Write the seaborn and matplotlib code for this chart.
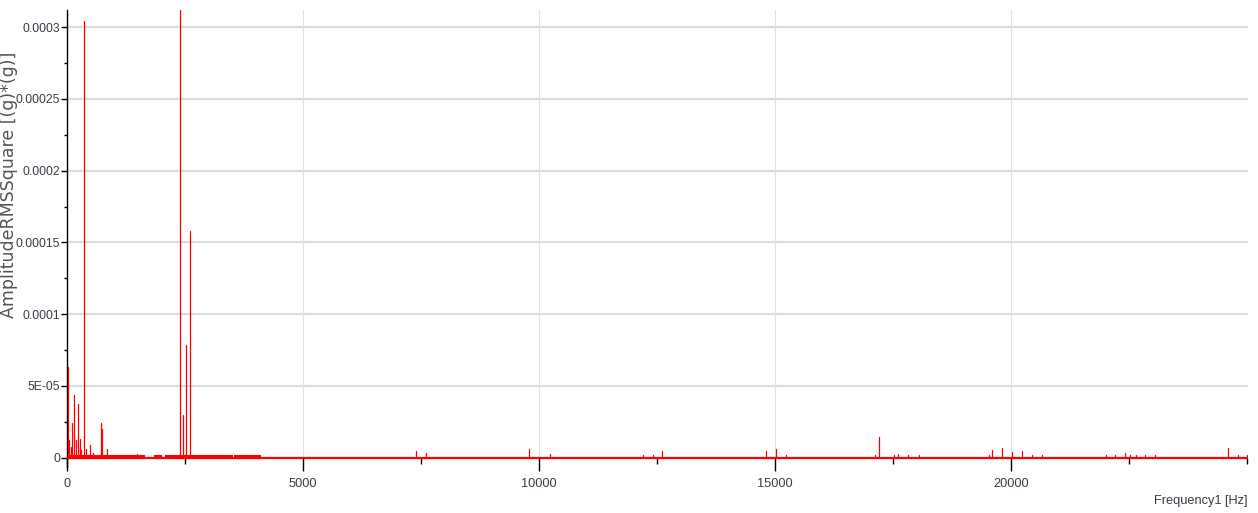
import numpy as np
import pandas as pd
import matplotlib
matplotlib.use("Agg")
import matplotlib.pyplot as plt
from matplotlib.ticker import MultipleLocator, FixedLocator
import seaborn as sns

# Spectrum peaks (Hz, g*g)
peak_freqs = [10, 42, 85, 112, 155, 184, 239, 275, 303, 360, 403, 494, 557,
              720, 748, 841, 911, 1477,
              2394, 2451, 2521, 2612,
              7400, 7612, 9788, 10226, 12197, 12409, 12612, 14809, 15014, 15226,
              17125, 17203, 17521, 17612, 17824, 18044, 19527, 19591, 19803,
              20028, 20226, 20438, 20650, 22006, 22212, 22422, 22521, 22642,
              22833, 23044, 24604, 24816, 25000]
peak_amps = [6.28e-5, 1.2e-5, 7.0e-6, 2.4e-5, 4.33e-5, 1.2e-5, 3.7e-5, 1.3e-5, 5.0e-6,
             3.04e-4, 5.6e-6, 8.4e-6, 3.0e-6,
             2.39e-5, 2.0e-5, 5.6e-6, 2.0e-6, 2.8e-6,
             3.4e-4, 2.93e-5, 7.81e-5, 1.58e-4,
             4.2e-6, 3.0e-6, 5.6e-6, 2.6e-6, 2.0e-6, 2.0e-6, 4.2e-6, 4.2e-6, 5.6e-6, 2.0e-6,
             1.5e-6, 1.42e-5, 1.5e-6, 2.6e-6, 2.0e-6, 2.0e-6, 2.0e-6, 5.3e-6, 6.5e-6,
             4.0e-6, 4.2e-6, 1.5e-6, 1.5e-6, 1.5e-6, 1.5e-6, 3.0e-6, 1.5e-6, 2.0e-6,
             1.5e-6, 1.5e-6, 6.5e-6, 1.5e-6, 2.0e-6]

# Noise floor band below ~4 kHz
floor_start = [0, 1850, 2076, 3538, 3934]
floor_end = [1631, 1992, 3496, 3919, 4089]
floor_level = [2.0e-6, 2.0e-6, 2.0e-6, 2.0e-6, 2.0e-6]

xticks = [0, 5000, 10000, 15000, 20000]
yticks = [0, 5e-5, 1e-4, 1.5e-4, 2e-4, 2.5e-4, 3e-4]
ytick_labels = ["0", "5E-05", "0.0001", "0.00015", "0.0002", "0.00025", "0.0003"]

# one unit per spike: (f, 0) -> (f, amp)
spikes = pd.DataFrame({
    "freq": np.repeat(peak_freqs, 2),
    "amp": np.ravel([[0, a] for a in peak_amps]),
    "unit": np.repeat(np.arange(len(peak_freqs)), 2),
})

sns.set_theme(style="white")
plt.rcParams["font.family"] = ["Liberation Sans", "DejaVu Sans"]

fig = plt.figure(figsize=(12.58, 5.13), dpi=100)
ax = fig.add_axes([0.0533, 0.0897, 0.9387, 0.8908])

for y in yticks[1:]:
    ax.axhline(y, color="#dcdcdc", lw=1.6, zorder=0)
for x in xticks[1:]:
    ax.axvline(x, color="#e2e2e2", lw=0.8, zorder=0)

for s, e, lv in zip(floor_start, floor_end, floor_level):
    ax.fill_between([s, e], 0, lv, color="red", lw=0.8, zorder=2)

sns.lineplot(data=spikes, x="freq", y="amp", units="unit", estimator=None,
             color="red", lw=0.9, ax=ax, zorder=3)
sns.lineplot(x=[0, 25000], y=[0, 0], color="red", lw=1.6, ax=ax, zorder=3)

ax.set_xlim(0, 25020)
ax.set_ylim(-6.6e-6, 3.12e-4)

ax.spines["top"].set_visible(False)
ax.spines["right"].set_visible(False)
ax.spines["bottom"].set_position(("data", 0))
ax.spines["bottom"].set_visible(False)
ax.spines["left"].set_color("black")
ax.spines["left"].set_linewidth(1.0)

ax.xaxis.set_major_locator(FixedLocator(xticks))
ax.xaxis.set_minor_locator(MultipleLocator(2500))
ax.set_yticks(yticks)
ax.set_yticklabels(ytick_labels)
ax.yaxis.set_minor_locator(MultipleLocator(2.5e-5))

ax.tick_params(axis="x", which="major", direction="out", length=9, width=1,
               color="black", pad=6, labelsize=9.2, labelcolor="#3a3a48", bottom=True)
ax.tick_params(axis="x", which="minor", direction="out", length=4, width=1,
               color="black", bottom=True)
ax.tick_params(axis="y", which="major", direction="out", length=4, width=1,
               color="black", pad=1, labelsize=8.8, labelcolor="#3a3a48", left=True)
ax.tick_params(axis="y", which="minor", direction="out", length=2, width=1,
               color="black", left=True)

ax.set_xlabel("")
ax.set_ylabel("AmplitudeRMSSquare [(g)*(g)]", family="DejaVu Sans",
              fontsize=12.5, color="#555555")
ax.yaxis.set_label_coords(-0.0415, 0.617)
fig.text(0.992, 0.012, "Frequency1 [Hz]", ha="right", va="bottom",
         fontsize=9.2, color="#3a3a48")

fig.savefig("out.png", dpi=100)
